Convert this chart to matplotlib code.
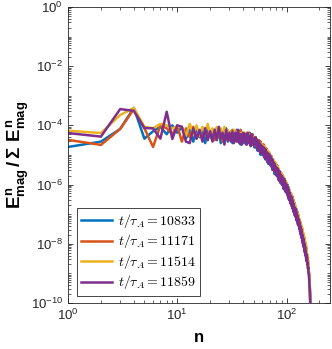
import numpy as np
import matplotlib
matplotlib.use('Agg')
import matplotlib.pyplot as plt
from matplotlib.ticker import LogLocator, NullFormatter, FixedLocator
from matplotlib.font_manager import FontProperties

plt.rcParams['font.family'] = 'Liberation Sans'
plt.rcParams['mathtext.fontset'] = 'custom'
plt.rcParams['mathtext.rm'] = 'Liberation Sans:bold'
plt.rcParams['mathtext.it'] = 'Liberation Sans:bold'
plt.rcParams['mathtext.bf'] = 'Liberation Sans:bold'

times = [10833, 11171, 11514, 11859]
colors = ['#0072BD', '#D95319', '#EDB120', '#7E2F8E']

# log10 of E^n_mag / sum E^n_mag, for n = 1, 2, ...
blue = [-4.73, -4.55, -4.12, -3.41, -4.45, -4.2, -4.05, -4.3, -4.0, -4.25,
        -4.05, -4.45, -4.15, -4.55, -4.1, -4.4, -4.2, -4.6, -4.15, -4.35,
        -4.5, -4.15, -4.45, -4.2, -4.6, -4.25, -4.4, -4.1, -4.55, -4.3,
        -4.2, -4.6, -4.3, -4.5, -4.15, -4.55, -4.35, -4.65, -4.25, -4.45,
        -4.6, -4.3, -4.65, -4.35, -4.55, -4.25, -4.7, -4.4, -4.6, -4.45,
        -4.75, -4.4, -4.65, -4.85, -4.5, -4.8, -4.6, -5.0, -4.7, -4.85,
        -4.65, -5.05, -4.8, -5.15, -4.85, -5.1, -4.9, -5.3, -5.0, -5.15,
        -5.35, -5.05, -5.3, -5.5, -5.15, -5.45, -5.25, -5.65, -5.35, -5.5,
        -5.65, -5.35, -5.7, -5.5, -5.85, -5.55, -5.75, -5.95, -5.6, -5.8,
        -6.0, -5.7, -5.9, -6.15, -5.8, -6.05, -5.9, -6.25, -5.95, -6.1,
        -6.3, -6.0, -6.25, -6.45, -6.1, -6.4, -6.25, -6.55, -6.3, -6.45,
        -6.65, -6.4, -6.6, -6.8, -6.5, -6.75, -6.6, -6.95, -6.65, -6.85,
        -7.05, -6.8, -7.0, -7.2, -6.9, -7.15, -7.0, -7.35, -7.05, -7.25,
        -7.45, -7.2, -7.4, -7.6, -7.3, -7.55, -7.45, -7.75, -7.5, -7.7,
        -7.95, -7.65, -7.9, -8.1, -7.8, -8.05, -7.95, -8.25, -8.05, -8.2,
        -8.35, -8.15, -8.45, -8.6, -8.4, -8.65, -8.65, -8.85, -8.75, -8.95,
        -9.0, -9.15, -9.35, -9.6, -10.0, -10.6, -11.5, -13.0]
red = [-4.49, -4.66, -4.12, -3.45, -4.1, -4.73, -4.0, -4.1, -4.3, -4.0,
       -4.55, -4.1, -4.4, -4.05, -4.45, -4.2, -4.5, -4.1, -4.4, -4.2,
       -4.2, -4.5, -4.1, -4.4, -4.2, -4.55, -4.15, -4.45, -4.25, -4.5,
       -4.3, -4.15, -4.55, -4.2, -4.5, -4.25, -4.6, -4.15, -4.5, -4.3,
       -4.25, -4.55, -4.3, -4.6, -4.25, -4.55, -4.35, -4.65, -4.3, -4.55,
       -4.4, -4.7, -4.45, -4.65, -4.75, -4.5, -4.85, -4.55, -4.9, -4.65,
       -4.95, -4.65, -5.0, -4.75, -5.05, -4.8, -5.15, -4.9, -5.2, -4.95,
       -5.05, -5.35, -5.05, -5.4, -5.15, -5.5, -5.25, -5.45, -5.6, -5.3,
       -5.45, -5.7, -5.4, -5.75, -5.5, -5.8, -5.55, -5.85, -5.6, -5.9,
       -5.7, -5.95, -5.75, -6.0, -6.1, -5.8, -6.15, -5.9, -6.2, -5.95,
       -6.05, -6.35, -6.1, -6.4, -6.15, -6.5, -6.25, -6.45, -6.6, -6.3,
       -6.45, -6.75, -6.4, -6.8, -6.55, -6.85, -6.6, -6.9, -6.65, -6.95,
       -6.8, -7.1, -6.85, -7.15, -6.95, -7.25, -7.0, -7.3, -7.1, -7.35,
       -7.2, -7.5, -7.25, -7.55, -7.35, -7.65, -7.45, -7.75, -7.55, -7.8,
       -7.65, -7.95, -7.75, -8.05, -7.85, -8.15, -7.95, -8.25, -8.05, -8.3,
       -8.15, -8.45, -8.3, -8.55, -8.4, -8.7, -8.55, -8.85, -8.8, -9.0,
       -9.05, -9.25, -9.4, -9.7, -10.1, -10.7, -11.6, -13.0]
yellow = [-4.18, -4.26, -3.65, -3.41, -4.05, -4.1, -3.95, -4.0, -4.1, -4.05,
          -4.05, -4.35, -3.95, -4.3, -4.0, -4.35, -4.05, -4.25, -3.95, -4.3,
          -4.1, -4.35, -4.05, -4.3, -4.1, -4.4, -4.05, -4.35, -4.15, -4.4,
          -4.2, -4.45, -4.15, -4.4, -4.2, -4.45, -4.25, -4.5, -4.25, -4.45,
          -4.3, -4.5, -4.25, -4.55, -4.3, -4.55, -4.35, -4.6, -4.4, -4.55,
          -4.5, -4.4, -4.7, -4.5, -4.75, -4.55, -4.8, -4.6, -4.85, -4.65,
          -4.75, -5.0, -4.7, -5.05, -4.8, -5.1, -4.85, -5.15, -4.9, -5.2,
          -5.0, -5.25, -5.05, -5.35, -5.15, -5.4, -5.2, -5.5, -5.25, -5.55,
          -5.35, -5.6, -5.4, -5.65, -5.45, -5.75, -5.55, -5.8, -5.6, -5.85,
          -5.65, -5.9, -5.7, -6.0, -5.8, -6.05, -5.85, -6.1, -5.9, -6.15,
          -6.0, -6.25, -6.05, -6.35, -6.15, -6.4, -6.2, -6.5, -6.3, -6.55,
          -6.35, -6.65, -6.45, -6.7, -6.5, -6.8, -6.6, -6.85, -6.65, -6.95,
          -6.75, -7.05, -6.85, -7.1, -6.9, -7.2, -7.0, -7.25, -7.05, -7.35,
          -7.15, -7.45, -7.25, -7.5, -7.3, -7.6, -7.4, -7.65, -7.45, -7.75,
          -7.55, -7.85, -7.65, -7.95, -7.75, -8.05, -7.85, -8.15, -7.95, -8.25,
          -8.05, -8.35, -8.2, -8.5, -8.35, -8.6, -8.45, -8.75, -8.7, -8.9,
          -9.0, -9.2, -9.35, -9.6, -10.0, -10.6, -11.5, -13.0]
purple = [-4.26, -4.38, -3.45, -3.51, -4.09, -4.1, -4.45, -3.54, -4.46, -4.0,
          -4.05, -4.55, -4.6, -4.1, -4.45, -4.15, -4.55, -4.1, -4.5, -4.2,
          -4.55, -4.15, -4.5, -4.05, -4.45, -4.25, -4.65, -4.15, -4.5, -4.25,
          -4.55, -4.2, -4.6, -4.25, -4.55, -4.15, -4.6, -4.3, -4.65, -4.25,
          -4.55, -4.3, -4.65, -4.25, -4.6, -4.35, -4.7, -4.3, -4.65, -4.45,
          -4.65, -4.4, -4.75, -4.5, -4.85, -4.55, -4.9, -4.65, -4.95, -4.7,
          -5.0, -4.75, -5.1, -4.8, -5.15, -4.9, -5.25, -4.95, -5.2, -5.0,
          -5.3, -5.05, -5.4, -5.15, -5.5, -5.25, -5.55, -5.3, -5.6, -5.4,
          -5.7, -5.45, -5.75, -5.5, -5.85, -5.55, -5.9, -5.65, -5.95, -5.7,
          -6.0, -5.75, -6.05, -5.8, -6.15, -5.85, -6.2, -5.95, -6.25, -6.0,
          -6.3, -6.05, -6.4, -6.15, -6.5, -6.25, -6.55, -6.35, -6.65, -6.4,
          -6.7, -6.45, -6.8, -6.55, -6.9, -6.65, -6.95, -6.75, -7.05, -6.8,
          -7.1, -6.85, -7.2, -6.95, -7.25, -7.05, -7.35, -7.15, -7.4, -7.2,
          -7.5, -7.3, -7.6, -7.4, -7.7, -7.5, -7.8, -7.6, -7.9, -7.7,
          -8.0, -7.8, -8.1, -7.9, -8.2, -8.0, -8.3, -8.1, -8.4, -8.25,
          -8.5, -8.35, -8.6, -8.45, -8.7, -8.65, -8.85, -8.8, -9.0, -9.05,
          -9.2, -9.35, -9.5, -9.75, -10.1, -10.7, -11.6, -13.0]

series = [blue, red, yellow, purple]

fig = plt.figure(figsize=(3.32, 3.49), dpi=100)
ax = fig.add_axes([0.205, 0.132, 0.789, 0.848])

for vals, t, c in zip(series, times, colors):
    n = np.arange(1, len(vals) + 1)
    ax.plot(n, 10.0 ** np.array(vals), color=c, lw=1.8,
            label=r'$t/\tau_A{=}%d$' % t)

ax.set_xscale('log')
ax.set_yscale('log')
ax.set_xlim(1, 250)
ax.set_ylim(1e-10, 1)

ax.yaxis.set_major_locator(FixedLocator([10.0 ** k for k in range(-10, 1, 2)]))
ax.yaxis.set_minor_locator(LogLocator(base=10, subs=np.arange(1, 10), numticks=30))
ax.yaxis.set_minor_formatter(NullFormatter())
ax.xaxis.set_minor_locator(LogLocator(base=10, subs=np.arange(2, 10), numticks=30))
ax.xaxis.set_minor_formatter(NullFormatter())

ax.tick_params(which='both', direction='in', top=True, right=True,
               colors='#262626', labelsize=9.5)
ax.tick_params(which='major', length=3.5, width=0.6)
ax.tick_params(which='minor', length=2, width=0.5)
for s in ax.spines.values():
    s.set_color('#262626')
    s.set_linewidth(0.6)

ax.set_xlabel('n', fontsize=12, fontweight='bold', labelpad=5)
ax.set_ylabel(r'$E^n_{mag}\,/\,\Sigma\ E^n_{mag}$', fontsize=13.5, labelpad=0)

leg = ax.legend(loc='lower left', bbox_to_anchor=(0.035, 0.025),
                prop=FontProperties(size=10, math_fontfamily='cm'),
                handlelength=2.2, handletextpad=0.4, labelspacing=0.18,
                borderpad=0.3, fancybox=False, framealpha=1,
                edgecolor='#262626', borderaxespad=0)
leg.get_frame().set_linewidth(0.6)

fig.savefig('out.png', dpi=100)
